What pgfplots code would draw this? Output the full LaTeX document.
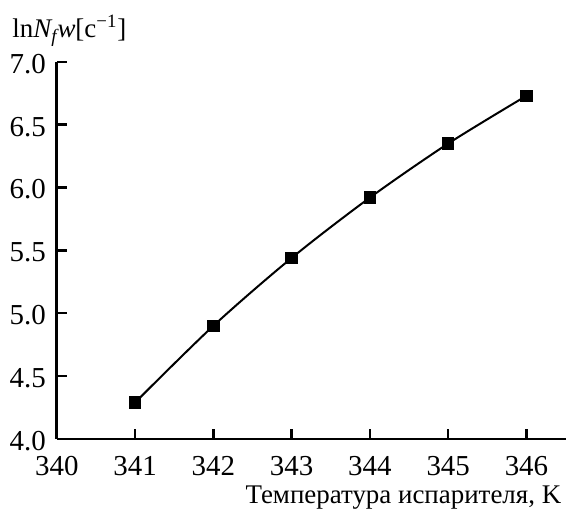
\documentclass[border=0pt]{standalone}
\usepackage{pgfplots}
\pgfplotsset{compat=1.18}
\usepackage{fontspec}
\setmainfont{Liberation Serif}
\begin{document}
\begin{tikzpicture}
\begin{axis}[
  scale only axis,
  width=255pt, height=189pt,
  xmin=340, xmax=346.5, ymin=4.0, ymax=7.0,
  axis lines*=left,
  axis line style={line width=1.4pt},
  tick align=inside,
  major tick length=5pt,
  tick style={line width=1.2pt, black},
  xtick={340,341,342,343,344,345,346},
  ytick={4.0,4.5,5.0,5.5,6.0,6.5,7.0},
  /pgf/number format/assume math mode=true,
  yticklabel style={/pgf/number format/.cd, fixed, fixed zerofill, precision=1, /tikz/.cd, font=\fontsize{14.5}{16}\selectfont, xshift=-2pt, yshift=-1pt},
  xticklabel style={/pgf/number format/.cd, fixed, set thousands separator={}, /tikz/.cd, font=\fontsize{14.5}{16}\selectfont, yshift=-5pt},
  clip=false,
]
\addplot[black, line width=1pt, smooth, tension=0.5, mark=square*, mark size=2.6pt, mark options={solid}] coordinates {
  (341,4.29) (342,4.90) (343,5.44) (344,5.92) (345,6.35) (346,6.73)
};
\node[anchor=base west, font=\fontsize{13.5}{15}\selectfont, inner sep=0pt] at ([shift={(-22.5pt,12pt)}]rel axis cs:0,1) {ln\textit{N\textsubscript{f}w}[с\textsuperscript{−1}]};
\node[anchor=base east, font=\fontsize{13.5}{15}\selectfont, inner sep=0pt] at ([shift={(-2pt,-32.5pt)}]rel axis cs:1,0) {Температура испарителя, K};
\path ([shift={(-28.5pt,-35.5pt)}]rel axis cs:0,0) ([shift={(0pt,31pt)}]rel axis cs:1,1);
\end{axis}
\end{tikzpicture}
\end{document}
